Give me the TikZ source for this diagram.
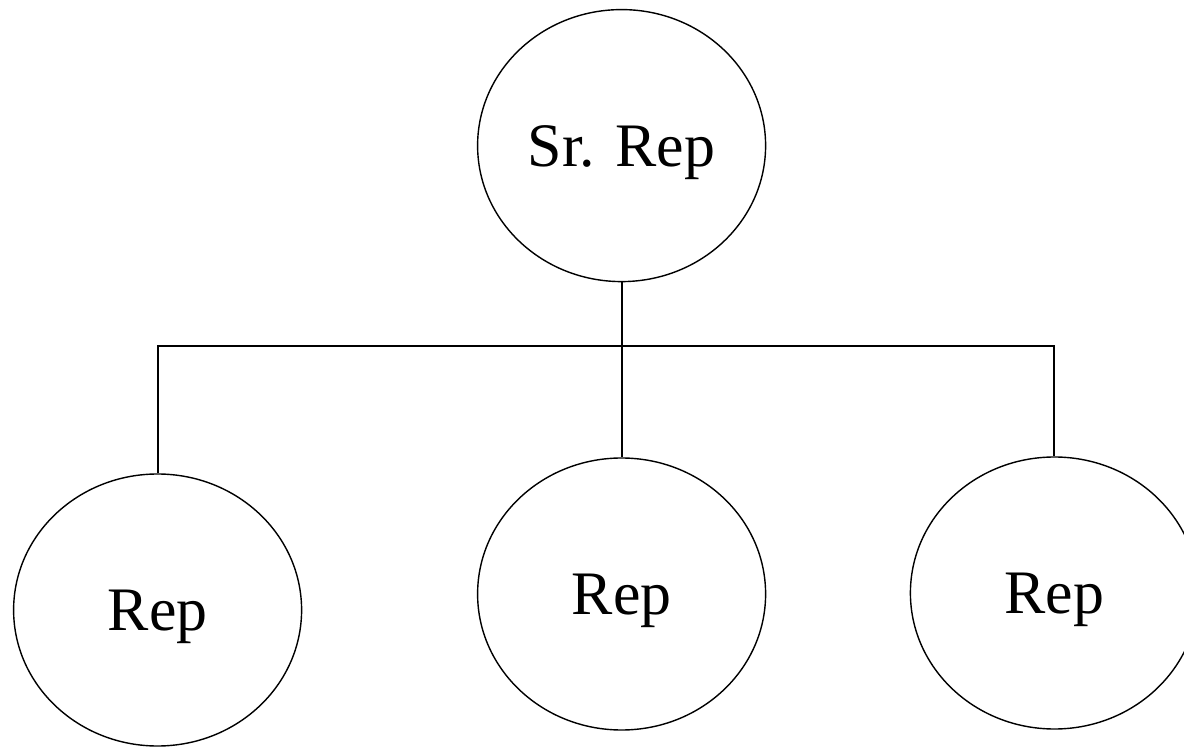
\documentclass[tikz,border=0pt]{standalone}
\usepackage{fontspec}
\setmainfont{Liberation Serif}
\usepackage{tikz}
\usetikzlibrary{shapes.geometric}

\tikzset{
  rep/.style={ellipse, draw, line width=1pt, inner sep=0pt,
    minimum width=7.2cm, minimum height=6.8cm, text depth=0pt,
    font=\fontsize{44}{52}\selectfont},
  link/.style={line width=1.4pt}
}

\begin{document}
\begin{tikzpicture}

 \useasboundingbox (0,0) rectangle (29.6,18.65);
 \clip (0,0) rectangle (29.6,18.65);

 % the manager on top
 \node[rep] (senior) at (15.54,15.01) {Sr. Rep};

 % the three reps below
 \node[rep] (repA) at (3.94,3.4) {Rep};
 \node[rep] (repB) at (15.54,3.8) {Rep};
 \node[rep] (repC) at (26.36,3.825) {Rep};

 \coordinate (bar) at (15.54,10);

 \draw[link] (senior.south) to (repB.north);
 \draw[link] (repA.north) |- (bar) -| (repC.north);

\end{tikzpicture}
\end{document}
